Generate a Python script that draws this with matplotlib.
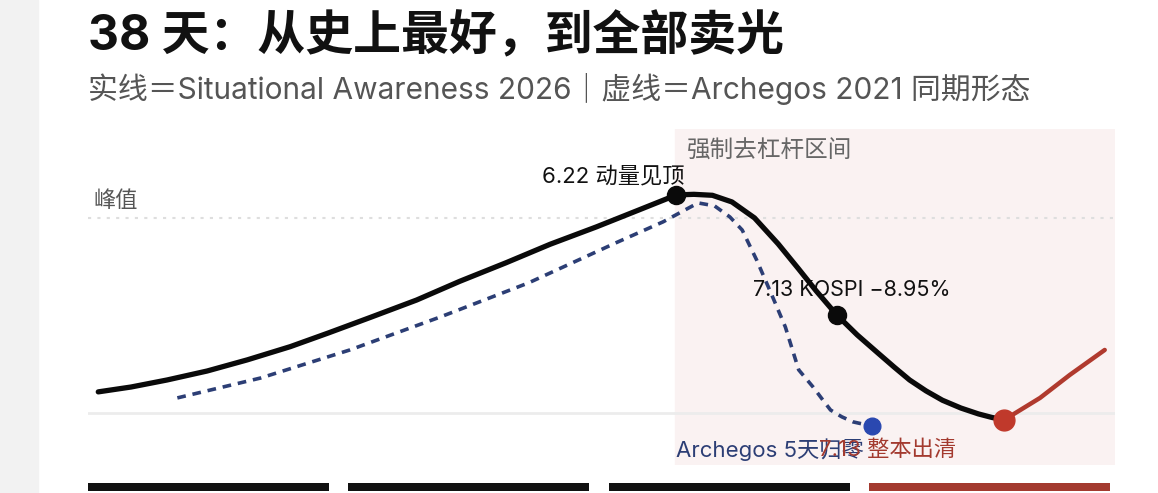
import numpy as np
import matplotlib.pyplot as plt
from matplotlib.patches import Rectangle

plt.rcParams['font.family'] = ['Inter', 'Noto Sans CJK SC', 'DejaVu Sans']

# x: 相对时间刻度 (0-100), y: 相对峰值 (峰值=100, 基线=0)
sa_x = [1.0, 4.2, 7.7, 11.6, 15.5, 19.7, 23.4, 27.5, 32.0, 36.2, 40.7, 45.0, 49.5,
        53.6, 57.3, 59.0, 60.8, 62.7, 64.9, 67.2, 69.2, 70.9, 72.9, 74.9, 76.9,
        78.5, 80.0, 81.6, 83.2, 85.0, 86.7, 88.0, 89.2]
sa_y = [10.8, 13.3, 16.9, 21.5, 27.2, 34.0, 41.0, 49.0, 57.9, 67.5, 77.0, 86.5, 95.4,
        104.0, 111.8, 112.1, 111.6, 108.2, 100.0, 86.7, 73.8, 62.6, 50.3, 40.0, 30.8,
        23.5, 16.9, 11.3, 6.5, 2.5, -0.5, -2.3, -3.6]

rebound_x = [89.2, 92.7, 95.6, 99.0]
rebound_y = [-3.6, 7.7, 19.5, 32.3]

arch_x = [8.7, 16.8, 25.5, 34.3, 42.9, 51.6, 56.0, 59.4, 61.0, 62.5, 63.7, 65.1,
          66.5, 67.9, 69.2, 70.6, 71.5, 72.3, 73.4, 74.5, 76.3]
arch_y = [7.7, 17.9, 32.3, 49.2, 66.7, 87.7, 98.0, 107.7, 106.2, 100.5, 93.8, 78.5,
          61.5, 44.1, 22.1, 13.3, 7.0, 1.5, -2.0, -4.6, -6.7]

peak_idx = 14
kospi_idx = 22
zone_start = 57.2
bar_colors = ['#111111', '#111111', '#111111', '#a33a2f']

fig = plt.figure(figsize=(11.58, 4.93), dpi=100)
fig.patches.append(Rectangle((0, 0), 38 / 1158, 1, transform=fig.transFigure,
                             color='#f2f2f2', zorder=0))

fig.text(88 / 1158, 1 - 37 / 493, '38 天：从史上最好，到全部卖光', fontsize=34.5,
         fontweight='bold', color='#111111', va='center', ha='left')
fig.text(88 / 1158, 1 - 89 / 493,
         '实线＝Situational Awareness 2026｜虚线＝Archegos 2021 同期形态',
         fontsize=21.5, color='#555555', va='center', ha='left')

ax = fig.add_axes([88 / 1158, 1 - 465 / 493, 1027 / 1158, 336 / 493])
ax.set_xlim(0, 100)
ax.set_ylim(-26.7, 145.6)
ax.axis('off')

ax.axvspan(zone_start, 100, color='#faf2f2', zorder=0)
ax.axhline(100, color='#dedede', lw=1.5, ls=(0, (1.5, 3)), zorder=1)
ax.axhline(0, color='#ececec', lw=2, zorder=1)

ax.plot(arch_x, arch_y, color='#2c3e75', lw=2.6, ls=(0, (2.4, 1.9)), zorder=3)
ax.plot(sa_x, sa_y, color='#0a0a0a', lw=3.8, solid_capstyle='round',
        solid_joinstyle='round', zorder=4)
ax.plot(rebound_x, rebound_y, color='#b03a2e', lw=3.2, solid_capstyle='round', zorder=4)

ax.plot(sa_x[peak_idx], sa_y[peak_idx], 'o', color='#0a0a0a', ms=13, zorder=5)
ax.plot(sa_x[kospi_idx], sa_y[kospi_idx], 'o', color='#0a0a0a', ms=13, zorder=5)
ax.plot(rebound_x[0], rebound_y[0], 'o', color='#c0392b', ms=15, zorder=5)
ax.plot(arch_x[-1], arch_y[-1], 'o', color='#2a48b0', ms=12, zorder=5)

ax.text(0.5, 108.7, '峰值', fontsize=16, color='#555555', va='center', ha='left')
ax.text(58.3, 133.8, '强制去杠杆区间', fontsize=17, color='#666666', va='center', ha='left')
ax.text(58.1, 121.5, '6.22 动量见顶', fontsize=16, color='#111111', va='center', ha='right')
ax.text(64.8, 63.1, '7.13 KOSPI −8.95%', fontsize=15.5, color='#111111', va='center', ha='left')
ax.text(57.3, -19.0, 'Archegos 5天归零', fontsize=16, color='#2c3e75', va='center', ha='left')
ax.text(84.5, -19.0, '7.13 整本出清', fontsize=16, color='#a33a2f', va='center', ha='right')

ax2 = fig.add_axes([88 / 1158, 1 - 491 / 493, 1022 / 1158, 8 / 493])
ax2.bar(np.arange(len(bar_colors)), 1, width=0.925, align='edge', color=bar_colors)
ax2.set_xlim(0, len(bar_colors) - 0.075)
ax2.set_ylim(0, 1)
ax2.axis('off')

plt.savefig('out.png', dpi=100)
